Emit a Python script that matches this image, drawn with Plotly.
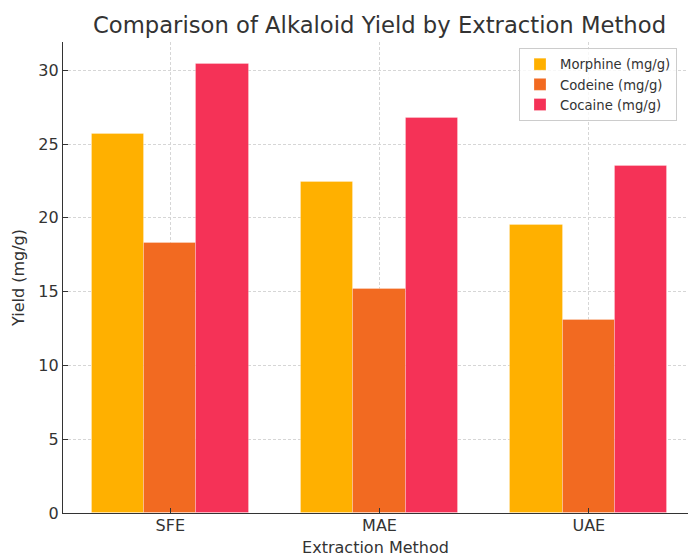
import plotly.graph_objects as go

methods = ["SFE", "MAE", "UAE"]
morphine = [25.7, 22.4, 19.5]
codeine = [18.3, 15.2, 13.1]
cocaine = [30.4, 26.8, 23.5]

series = [
    ("Morphine (mg/g)", morphine, "#FFB000", -0.25),
    ("Codeine (mg/g)", codeine, "#F26A21", 0.0),
    ("Cocaine (mg/g)", cocaine, "#F53257", 0.25),
]

fig = go.Figure()
xpos = list(range(len(methods)))
for name, vals, color, off in series:
    fig.add_trace(go.Bar(
        x=[i + off for i in xpos], y=vals, name=name, width=0.25,
        marker=dict(color=color, line=dict(color="rgba(255,255,255,0.25)", width=1)),
    ))

fig.update_layout(
    width=688, height=557,
    margin=dict(l=63, r=0, t=42, b=44, autoexpand=False),
    paper_bgcolor="white", plot_bgcolor="white",
    font=dict(family="DejaVu Sans", color="#333333", size=16),
    title=dict(text="Comparison of Alkaloid Yield by Extraction Method",
               x=(379.5 - 63) / 625, xref="paper", xanchor="center",
               y=1 - 25 / 557, yref="container", yanchor="middle",
               font=dict(size=22.7, color="#333333")),
    barmode="overlay",
    showlegend=True,
    legend=dict(x=0.7296, y=0.987, xanchor="left", yanchor="top",
                bgcolor="rgba(255,255,255,0.8)", bordercolor="#cccccc", borderwidth=1,
                font=dict(size=13.2, color="#333333"), traceorder="normal",
                itemwidth=30, tracegroupgap=0),
    bargap=0,
)
fig.update_xaxes(
    tickvals=xpos, ticktext=methods, range=[-0.5125, 2.474],
    showline=True, linecolor="#333333", linewidth=1.2,
    ticks="inside", ticklen=5, tickcolor="#333333",
    showgrid=True, gridcolor="#d6d6d6", griddash="3px,2px", gridwidth=1,
    title=dict(text="Extraction Method", standoff=8, font=dict(size=16)),
    tickfont=dict(size=16), ticklabelstandoff=-2,
    zeroline=False, automargin=True,
)
fig.update_yaxes(
    range=[0, 31.92], tickvals=[0, 5, 10, 15, 20, 25, 30],
    showline=True, linecolor="#333333", linewidth=1.2,
    ticks="inside", ticklen=5, tickcolor="#333333",
    showgrid=True, gridcolor="#d6d6d6", griddash="3px,2px", gridwidth=1,
    title=dict(text="Yield (mg/g)", standoff=9, font=dict(size=16)),
    tickfont=dict(size=16), ticklabelstandoff=0,
    zeroline=False, automargin=True,
)

fig.write_html("out.html", config={"displayModeBar": False},
               post_script="document.body.style.margin='0';document.body.style.overflow='hidden';")
